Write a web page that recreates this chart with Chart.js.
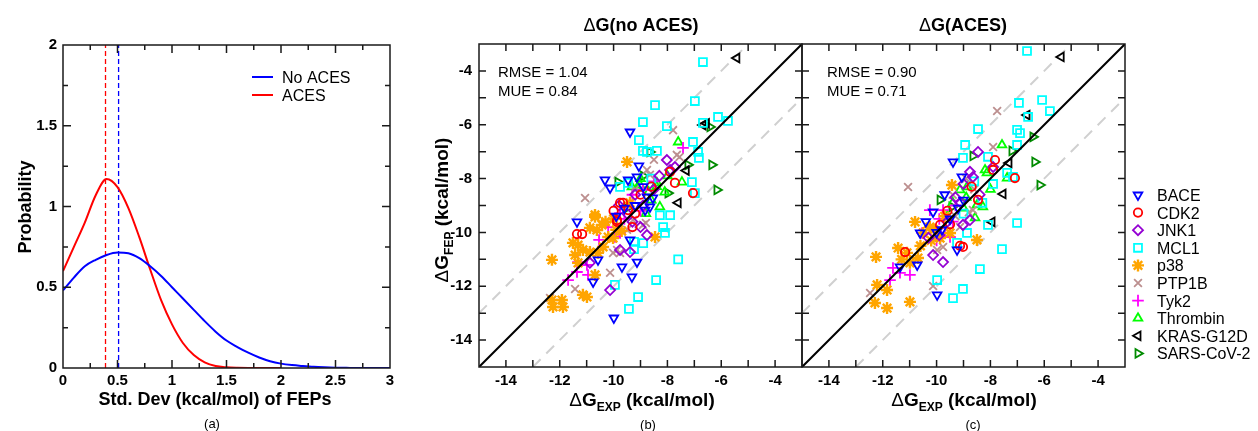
<!DOCTYPE html>
<html>
<head>
<meta charset="utf-8">
<script src="https://cdn.jsdelivr.net/npm/chart.js"></script>
<style>
  body { margin: 0; background: #fff; }
  #wrap { position: relative; width: 1258px; height: 431px; }
  canvas { position: absolute; left: 0; top: 0; }
</style>
</head>
<body>
<div id="wrap">
  <canvas id="ca" width="1258" height="431"></canvas>
  <canvas id="cb" width="1258" height="431"></canvas>
  <canvas id="cc" width="1258" height="431"></canvas>
</div>
<script>
// (a) distribucion de la desviacion estandar
const sdX = [0, 0.1, 0.2, 0.3, 0.4, 0.5, 0.6, 0.7, 0.8, 0.9, 1.0, 1.1, 1.2, 1.3, 1.4, 1.5,
  1.6, 1.7, 1.8, 1.9, 2.0, 2.1, 2.2, 2.3, 2.4, 2.5, 2.6, 2.7, 2.8, 2.9, 3.0];
const probNoAces = [0.48, 0.56, 0.63, 0.67, 0.70, 0.715, 0.71, 0.68, 0.63, 0.57, 0.50, 0.43, 0.36,
  0.29, 0.225, 0.17, 0.13, 0.095, 0.065, 0.042, 0.027, 0.018, 0.012, 0.007, 0.004, 0.002, 0.001, 0, 0, 0, 0];
const probAces = [0.60, 0.75, 0.90, 1.07, 1.17, 1.12, 0.99, 0.81, 0.61, 0.42, 0.27, 0.155, 0.08,
  0.035, 0.012, 0.004, 0.001, 0, 0, 0, 0];
const meanNoAces = 0.51;
const meanAces = 0.39;
const sdTicks = [0, 0.5, 1, 1.5, 2, 2.5, 3];
const probTicks = [0, 0.5, 1, 1.5, 2];

// (b)/(c) dG experimental vs FEP  [exp, fep]
const systems = ['BACE', 'CDK2', 'JNK1', 'MCL1', 'p38', 'PTP1B', 'Tyk2', 'Thrombin', 'KRAS-G12D', 'SARS-CoV-2'];
const dgTicks = [-14, -12, -10, -8, -6, -4];

const baceNo = [[-9.39,-6.27],[-9.06,-7.53],[-10.13,-8.35],[-9.46,-8.05],[-9.13,-7.94],[-10.32,-8.05],[-11.36,-9.61],
  [-8.76,-8.68],[-8.65,-9.05],[-8.54,-8.72],[-9.69,-11.28],[-9.13,-11.1],[-9.32,-11.65],[-10.76,-11.84],[-9.99,-13.18],
  [-9.39,-10.28],[-10.58,-11.02],[-8.83,-9.17],[-9.6,-9.1],[-9.9,-9.4],[-9.2,-9.0],[-8.9,-8.3]];
const cdk2No = [[-9.76,-8.9],[-9.87,-9.61],[-9.46,-9.17],[-7.9,-7.75],[-7.05,-8.54],[-7.72,-8.16],[-11.17,-10.06],
  [-11.36,-10.06],[-9.87,-9.54],[-9.65,-8.9],[-9.2,-9.3],[-8.6,-8.3],[-9.3,-9.8],[-10.0,-9.2],[-9.0,-8.6]];
const jnk1No = [[-8.02,-7.31],[-7.9,-7.68],[-7.72,-7.57],[-10.13,-12.14],[-9.39,-10.73],[-8.76,-10.1],[-9.76,-10.65],
  [-10.88,-11.13],[-9.2,-8.6],[-9.5,-9.3],[-8.9,-9.0],[-9.0,-9.8],[-8.5,-8.4],[-8.3,-7.9],[-9.8,-9.0],[-9.3,-9.6]];
const mcl1No = [[-8.46,-5.27],[-6.98,-5.12],[-8.91,-5.9],[-8.02,-6.05],[-6.12,-5.71],[-5.75,-5.86],[-6.68,-5.93],
  [-9.06,-6.57],[-7.05,-6.64],[-8.91,-6.97],[-8.39,-6.97],[-6.86,-7.01],[-6.83,-7.23],[-9.46,-8.16],[-7.09,-8.13],
  [-6.68,-3.67],[-6.98,-8.54],[-9.76,-8.31],[-8.28,-9.36],[-8.16,-9.8],[-7.9,-9.36],[-8.09,-10.02],[-9.24,-10.35],
  [-8.9,-10.4],[-9.24,-10.62],[-7.6,-11.0],[-8.42,-11.77],[-9.95,-11.95],[-9.09,-12.4],[-9.43,-12.84],[-8.76,-7.01],[-8.6,-8.0]];
const p38No = [[-10.69,-9.42],[-10.43,-9.72],[-10.88,-9.83],[-10.62,-9.91],[-11.51,-10.39],[-11.32,-10.47],[-11.14,-10.65],
  [-11.43,-10.84],[-11.32,-11.13],[-12.29,-11.02],[-10.88,-10.73],[-10.58,-10.76],[-10.39,-10.54],[-10.02,-10.21],
  [-10.69,-11.58],[-11.14,-12.32],[-10.99,-12.4],[-12.29,-12.51],[-11.88,-12.77],[-12.25,-12.77],[-11.92,-12.51],
  [-8.46,-10.17],[-10.2,-10.17],[-9.5,-7.38],[-10.69,-9.35],[-9.39,-8.9],[-10.3,-9.6],[-9.9,-9.9],[-10.0,-9.5],[-9.7,-9.95]];
const ptp1bNo = [[-7.79,-6.2],[-11.06,-8.72],[-7.65,-7.12],[-7.55,-7.2],[-8.76,-7.68],[-8.65,-7.86],[-10.13,-11.5],
  [-11.43,-12.1],[-8.8,-9.65],[-9.76,-10.76],[-12.36,-12.44],[-9.87,-10.65],[-10.02,-10.76],[-9.28,-9.54],[-8.91,-9.72],
  [-9.2,-8.4],[-9.5,-9.9],[-8.5,-7.3]];
const tyk2No = [[-10.54,-10.28],[-11.32,-11.1],[-10.99,-11.21],[-11.36,-11.47],[-10.95,-11.58],[-11.69,-11.77],
  [-9.76,-10.02],[-9.95,-10.17],[-9.76,-9.28],[-7.42,-6.86],[-8.91,-8.42],[-9.3,-8.6],[-9.6,-9.5],[-8.5,-8.1],[-10.2,-9.8],[-9.0,-9.2]];
const thrombinNo = [[-7.6,-6.64],[-8.39,-8.16],[-7.46,-8.13],[-8.28,-9.05],[-9.13,-8.35],[-9.02,-8.24],[-9.32,-8.31],
  [-8.6,-8.8],[-8.1,-8.5],[-8.8,-9.3],[-9.0,-8.0],[-8.0,-7.9],[-8.7,-8.5],[-8.4,-8.3]];
const krasNo = [[-5.42,-3.52],[-6.68,-6.01],[-6.55,-5.95],[-7.3,-7.7],[-7.6,-8.9]];
const sarsNo = [[-8.65,-7.01],[-6.42,-6.08],[-6.35,-7.49],[-6.16,-8.42],[-9.84,-8.13],[-7.24,-7.49],[-7.98,-8.54],
  [-9.5,-9.09],[-8.9,-7.9]];

const baceAces = [[-9.39,-7.38],[-9.06,-7.94],[-10.13,-9.24],[-9.98,-12.32],[-9.24,-10.65],[-10.61,-10.02],[-10.72,-11.21],
  [-11.36,-11.28],[-9.7,-8.6],[-9.5,-9.5],[-10.4,-9.6],[-9.0,-8.8],[-9.8,-9.9],[-9.2,-9.1],[-10.0,-10.0]];
const cdk2Aces = [[-7.83,-7.31],[-7.09,-7.98],[-8.46,-8.79],[-7.9,-7.68],[-9.13,-10.5],[-9.87,-9.72],[-11.17,-10.73],
  [-9.02,-10.54],[-8.7,-8.3],[-9.6,-9.2],[-9.5,-9.7]];
const jnk1Aces = [[-9.76,-11.1],[-10.13,-10.84],[-8.76,-9.54],[-9.02,-9.72],[-8.46,-7.01],[-8.76,-7.75],[-8.65,-7.94],
  [-7.9,-7.57],[-9.3,-8.7],[-9.0,-8.2],[-9.6,-9.6],[-8.4,-8.6],[-10.3,-10.2],[-9.1,-8.9],[-9.9,-10.1]];
const mcl1Aces = [[-6.64,-3.26],[-6.94,-5.19],[-6.08,-5.08],[-5.79,-5.49],[-6.6,-5.71],[-8.46,-6.16],[-7.01,-6.19],
  [-6.9,-6.31],[-8.94,-6.75],[-7.01,-6.75],[-9.02,-7.23],[-7.38,-7.79],[-7.16,-7.94],[-7.01,-9.65],[-7.57,-10.62],
  [-8.39,-11.36],[-9.98,-11.77],[-9.02,-12.1],[-9.39,-12.44],[-8.87,-10.02],[-8.09,-9.72],[-9.24,-10.39],[-8.09,-7.19],
  [-8.3,-8.9],[-7.9,-8.2],[-8.6,-8.1],[-9.0,-9.3]];
const p38Aces = [[-10.8,-9.61],[-10.25,-9.8],[-10.5,-10.02],[-11.43,-10.58],[-11.1,-10.76],[-10.69,-10.95],[-10.99,-11.13],
  [-12.25,-10.91],[-12.21,-11.95],[-11.84,-12.14],[-12.29,-12.62],[-11.84,-12.81],[-10.99,-12.58],[-8.5,-10.28],
  [-9.5,-10.02],[-9.43,-8.24],[-9.87,-10.21],[-10.1,-9.9],[-9.7,-9.4],[-11.3,-11.0],[-10.2,-10.3],[-10.6,-10.5]];
const ptp1bAces = [[-7.75,-5.49],[-11.06,-8.31],[-7.9,-6.83],[-8.65,-9.17],[-8.8,-9.25],[-12.47,-12.25],[-10.13,-11.99],
  [-9.98,-10.65],[-9.76,-10.54],[-9.13,-9.8],[-8.9,-8.0],[-9.4,-8.6],[-9.3,-9.4],[-8.6,-8.4]];
const tyk2Aces = [[-10.54,-10.02],[-11.62,-11.32],[-11.36,-11.5],[-10.99,-11.58],[-11.73,-11.77],[-9.69,-10.02],
  [-9.5,-10.17],[-9.76,-9.17],[-10.25,-9.17],[-9.9,-9.5],[-9.3,-9.0],[-10.0,-10.3],[-9.4,-9.6]];
const thrombinAces = [[-7.57,-6.75],[-8.2,-7.68],[-8.13,-7.79],[-8.87,-8.31],[-9.13,-8.42],[-8.5,-8.98],[-7.38,-7.98],
  [-8.28,-9.05],[-8.57,-9.46],[-9.4,-8.9],[-8.9,-8.7],[-8.0,-8.4],[-9.6,-9.4],[-9.0,-9.1]];
const krasAces = [[-5.37,-3.48],[-6.64,-5.64],[-7.31,-7.42],[-7.53,-8.57],[-7.94,-9.61]];
const sarsAces = [[-6.42,-6.45],[-6.35,-7.38],[-6.16,-8.24],[-8.65,-7.16],[-7.2,-6.97],[-9.87,-8.79],[-9.43,-9.05]];

const noAcesSets = [baceNo, cdk2No, jnk1No, mcl1No, p38No, ptp1bNo, tyk2No, thrombinNo, krasNo, sarsNo];
const acesSets = [baceAces, cdk2Aces, jnk1Aces, mcl1Aces, p38Aces, ptp1bAces, tyk2Aces, thrombinAces, krasAces, sarsAces];
const statsNo = ['RMSE = 1.04', 'MUE = 0.84'];
const statsAces = ['RMSE = 0.90', 'MUE = 0.71'];

// estilos de los marcadores
const mColors = ['#0000ff', '#ff0000', '#9400d3', '#00ffff', '#ffa500', '#bc8f8f', '#ff00ff', '#00ff00', '#000000', '#008b00'];
const mStyles = ['triangle', 'circle', 'rectRot', 'rect', 'star', 'crossRot', 'cross', 'triangle', 'triangle', 'triangle'];
const mRot = [180, 0, 0, 0, 0, 0, 0, 0, 270, 90];
const mRadius = [5, 4.2, 5, 5.6, 6, 5.5, 5.8, 5, 5, 5];
const mWidth = [1.8, 1.8, 1.8, 1.8, 2.4, 1.8, 1.8, 1.8, 1.8, 1.8];

Chart.defaults.font.family = '"Liberation Sans", Arial, sans-serif';
Chart.defaults.color = '#000';
const FONT = '"Liberation Sans", Arial, sans-serif';

// marco con marcas hacia dentro
const frame = {
  id: 'frame',
  afterDatasetsDraw(chart, args, o) {
    const { ctx, chartArea: a, scales: { x, y } } = chart;
    ctx.save();
    ctx.strokeStyle = '#1a1a1a';
    ctx.lineWidth = 1.5;
    ctx.beginPath();
    o.xt.forEach(([v, l]) => {
      const px = x.getPixelForValue(v);
      ctx.moveTo(px, a.bottom); ctx.lineTo(px, a.bottom - l);
      ctx.moveTo(px, a.top); ctx.lineTo(px, a.top + l);
    });
    o.yt.forEach(([v, l]) => {
      const py = y.getPixelForValue(v);
      ctx.moveTo(a.left, py); ctx.lineTo(a.left + l, py);
      ctx.moveTo(a.right, py); ctx.lineTo(a.right - l, py);
    });
    ctx.stroke();
    ctx.strokeRect(a.left, a.top, a.right - a.left, a.bottom - a.top);
    ctx.restore();
  }
};

function drawRich(ctx, it) {
  ctx.save();
  ctx.translate(it.x, it.y);
  if (it.rot) ctx.rotate(it.rot * Math.PI / 180);
  ctx.fillStyle = '#000';
  ctx.textBaseline = 'alphabetic';
  let w = 0;
  it.parts.forEach(p => { ctx.font = p.f; w += ctx.measureText(p.t).width; });
  let cx = it.align === 'left' ? 0 : -w / 2;
  it.parts.forEach(p => { ctx.font = p.f; ctx.fillText(p.t, cx, p.dy || 0); cx += ctx.measureText(p.t).width; });
  ctx.restore();
}

const texts = {
  id: 'texts',
  afterDraw(chart, args, o) {
    const ctx = chart.ctx;
    (o.items || []).forEach(it => drawRich(ctx, it));
    if (o.lineLegend) {
      o.lineLegend.forEach(l => {
        ctx.save();
        ctx.strokeStyle = l.color; ctx.lineWidth = 2;
        ctx.beginPath(); ctx.moveTo(252, l.y); ctx.lineTo(273, l.y); ctx.stroke();
        ctx.restore();
        drawRich(ctx, { x: 282, y: l.y + 6, align: 'left', parts: [{ t: l.label, f: '16px ' + FONT }] });
      });
    }
    if (o.markerLegend) {
      systems.forEach((name, i) => {
        const yy = 195 + i * 17.6;
        ctx.save();
        ctx.strokeStyle = mColors[i]; ctx.fillStyle = 'rgba(0,0,0,0)'; ctx.lineWidth = mWidth[i];
        Chart.helpers.drawPoint(ctx, { pointStyle: mStyles[i], rotation: mRot[i], radius: mRadius[i], borderWidth: mWidth[i] }, 1138, yy);
        ctx.restore();
        drawRich(ctx, { x: 1157, y: yy + 6, align: 'left', parts: [{ t: name, f: '16px ' + FONT }] });
      });
    }
  }
};

function ticksEvery(from, to, step, major, lenMajor, lenMinor) {
  const out = [];
  for (let v = from; v <= to + 1e-9; v += step) {
    const r = Math.round(v * 100) / 100;
    const isMajor = Math.abs(r / major - Math.round(r / major)) < 1e-6;
    out.push([r, isMajor ? lenMajor : lenMinor]);
  }
  return out;
}

const tickFont = { size: 15, weight: 'bold' };
const plainLabel = v => String(v);

// ---------- (a) ----------
new Chart(document.getElementById('ca'), {
  type: 'line',
  data: {
    datasets: [
      { data: sdX.map((x, i) => ({ x, y: probNoAces[i] })), borderColor: '#0000ff', borderWidth: 2, pointRadius: 0, cubicInterpolationMode: 'monotone' },
      { data: probAces.map((y, i) => ({ x: sdX[i], y })), borderColor: '#ff0000', borderWidth: 2, pointRadius: 0, cubicInterpolationMode: 'monotone' },
      { data: [{ x: meanNoAces, y: 0 }, { x: meanNoAces, y: 2 }], borderColor: '#0000ff', borderWidth: 1.3, borderDash: [5, 3], pointRadius: 0 },
      { data: [{ x: meanAces, y: 0 }, { x: meanAces, y: 2 }], borderColor: '#ff0000', borderWidth: 1.3, borderDash: [5, 3], pointRadius: 0 }
    ]
  },
  options: {
    responsive: false, animation: false,
    layout: { padding: { left: 0, right: 868, top: 45, bottom: 0 } },
    scales: {
      x: {
        type: 'linear', min: 0, max: 3,
        afterBuildTicks(s) { s.ticks = sdTicks.map(v => ({ value: v })); },
        afterFit(s) { s.height = 63; },
        ticks: { font: tickFont, color: '#000', maxRotation: 0, autoSkip: false, padding: 4, callback: plainLabel },
        grid: { display: false, drawTicks: false }, border: { display: false }
      },
      y: {
        min: 0, max: 2,
        afterBuildTicks(s) { s.ticks = probTicks.map(v => ({ value: v })); },
        afterFit(s) { s.width = 63; },
        ticks: { font: tickFont, color: '#000', padding: 6, callback: plainLabel },
        grid: { display: false, drawTicks: false }, border: { display: false }
      }
    },
    plugins: {
      legend: { display: false }, tooltip: { enabled: false },
      frame: { xt: ticksEvery(0.25, 2.75, 0.25, 0.5, 8, 5), yt: ticksEvery(0.25, 1.75, 0.25, 0.5, 8, 5) },
      texts: {
        items: [
          { x: 31, y: 207, rot: -90, parts: [{ t: 'Probability', f: 'bold 18px ' + FONT }] },
          { x: 215, y: 405, parts: [{ t: 'Std. Dev (kcal/mol) of FEPs', f: 'bold 18px ' + FONT }] },
          { x: 212, y: 428, parts: [{ t: '(a)', f: '13px ' + FONT }] }
        ],
        lineLegend: [{ label: 'No ACES', color: '#0000ff', y: 77 }, { label: 'ACES', color: '#ff0000', y: 95 }]
      }
    }
  },
  plugins: [frame, texts]
});

// ---------- (b) y (c) ----------
function dgDatasets(sets) {
  const ds = [{
    type: 'scatter', showLine: true, data: [{ x: -15, y: -15 }, { x: -3, y: -3 }],
    borderColor: '#000', borderWidth: 2, pointRadius: 0
  }];
  sets.forEach((arr, i) => {
    ds.push({
      label: systems[i],
      data: arr.map(([x, y]) => ({ x, y })),
      pointStyle: mStyles[i], pointRotation: mRot[i], pointRadius: mRadius[i],
      pointBorderColor: mColors[i], pointBackgroundColor: 'rgba(0,0,0,0)', pointBorderWidth: mWidth[i]
    });
  });
  ds.push({ type: 'scatter', showLine: true, data: [{ x: -15, y: -13 }, { x: -5, y: -3 }],
    borderColor: '#d0d0d0', borderWidth: 2, borderDash: [11, 8], pointRadius: 0 });
  ds.push({ type: 'scatter', showLine: true, data: [{ x: -13, y: -15 }, { x: -3, y: -5 }],
    borderColor: '#d0d0d0', borderWidth: 2, borderDash: [11, 8], pointRadius: 0 });
  return ds;
}

function dgTitle(x, y, sub, rot) {
  return { x, y, rot, parts: [
    { t: 'Δ', f: '19px ' + FONT },
    { t: 'G', f: 'bold 19px ' + FONT },
    { t: sub, f: 'bold 12px ' + FONT, dy: 5 },
    { t: ' (kcal/mol)', f: 'bold 19px ' + FONT }
  ] };
}

function dgChart(id, sets, padL, yWidth, padR, showY, stats, statX, title, titleX, label, labelX, extra) {
  const items = [
    { x: titleX, y: 31, parts: [{ t: 'Δ', f: '18px ' + FONT }, { t: title, f: 'bold 18px ' + FONT }] },
    dgTitle(titleX + 1, 406, 'EXP'),
    { x: labelX, y: 429, parts: [{ t: label, f: '13px ' + FONT }] },
    { x: statX, y: 77, align: 'left', parts: [{ t: stats[0], f: '15px ' + FONT }] },
    { x: statX, y: 96, align: 'left', parts: [{ t: stats[1], f: '15px ' + FONT }] }
  ].concat(extra);
  return new Chart(document.getElementById(id), {
    type: 'scatter',
    data: { datasets: dgDatasets(sets) },
    options: {
      responsive: false, animation: false,
      layout: { padding: { left: padL, right: padR, top: 44, bottom: 0 } },
      scales: {
        x: {
          type: 'linear', min: -15, max: -3,
          afterBuildTicks(s) { s.ticks = dgTicks.map(v => ({ value: v })); },
          afterFit(s) { s.height = 64; },
          ticks: { font: tickFont, color: '#000', maxRotation: 0, autoSkip: false, padding: 5, callback: plainLabel },
          grid: { display: false, drawTicks: false }, border: { display: false }
        },
        y: {
          type: 'linear', min: -15, max: -3,
          afterBuildTicks(s) { s.ticks = dgTicks.map(v => ({ value: v })); },
          afterFit(s) { s.width = yWidth; },
          ticks: { display: showY, font: tickFont, color: '#000', padding: 7, callback: plainLabel },
          grid: { display: false, drawTicks: false }, border: { display: false }
        }
      },
      plugins: {
        legend: { display: false }, tooltip: { enabled: false },
        frame: { xt: ticksEvery(-14, -4, 1, 2, 7, 7), yt: ticksEvery(-14, -4, 1, 2, 7, 7) },
        texts: { items, markerLegend: id === 'cc' }
      }
    },
    plugins: [frame, texts]
  });
}

dgChart('cb', noAcesSets, 400, 79, 456, true, statsNo, 498, 'G(no ACES)', 641, '(b)', 648,
  [dgTitle(448, 210, 'FEP', -90)]);
dgChart('cc', acesSets, 790, 12, 133, false, statsAces, 827, 'G(ACES)', 963, '(c)', 973, []);
</script>
</body>
</html>
